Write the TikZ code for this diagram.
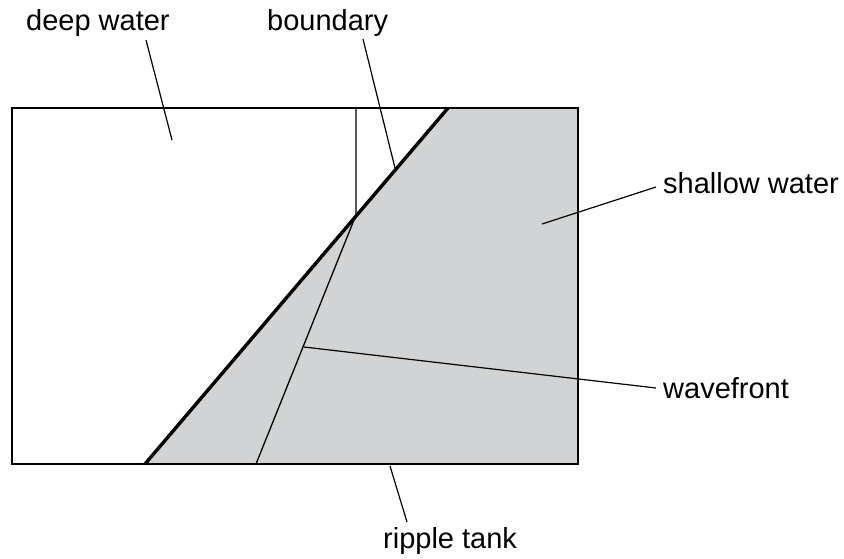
\documentclass[tikz,border=0pt]{standalone}
\usepackage{fontspec}
\setmainfont{Liberation Sans}
\definecolor{shallow}{RGB}{209,211,212}
\begin{document}
\begin{tikzpicture}[x=1pt,y=-1pt,
  lbl/.style={inner sep=0pt,font=\fontsize{29}{34}\selectfont},
  leader/.style={line width=1.2pt},
  frame/.style={line width=2.6pt},
  thin/.style={line width=1.3pt}]
\useasboundingbox (0,0) rectangle (844,558);
% coordinates
\coordinate (tl) at (12,108);
\coordinate (tr) at (578,108);
\coordinate (br) at (578,464);
\coordinate (bl) at (12,464);
\coordinate (bb) at (145,464);
\coordinate (bt) at (448,108);
\coordinate (vt) at (356,108);
\coordinate (vm) at (356,215);
\coordinate (rb) at (256,464);
% shallow region
\fill[shallow] (bb) -- (bt) -- (tr) -- (br) -- cycle;
% wavefronts
\draw[thin] (vt) -- (vm) -- (rb);
% boundary
\draw[line width=3.4pt] (bb) -- (bt);
% tank frame
\draw[frame] (tl) rectangle (br);
% labels
\node[lbl,anchor=base west] (deep) at (26,30) {deep water};
\node[lbl,anchor=base west] (bound) at (267,30) {boundary};
\node[lbl,anchor=base west] (shallowl) at (663,193) {shallow water};
\node[lbl,anchor=base west] (wave) at (663,398) {wavefront};
\node[lbl,anchor=base west] (ripple) at (383,548) {ripple tank};
% leader ends
\coordinate (d1) at (146,40);
\coordinate (d2) at (172,140);
\coordinate (b1) at (363,39);
\coordinate (b2) at (395,168);
\coordinate (s1) at (656,187);
\coordinate (s2) at (542,224);
\coordinate (w1) at (656,388);
\coordinate (w2) at (304,347);
\coordinate (r1) at (407,522);
\coordinate (r2) at (390,466);
\draw[leader] (d1) -- (d2);
\draw[leader] (b1) -- (b2);
\draw[leader] (s1) -- (s2);
\draw[leader] (w1) -- (w2);
\draw[leader] (r1) -- (r2);
\end{tikzpicture}
\end{document}
